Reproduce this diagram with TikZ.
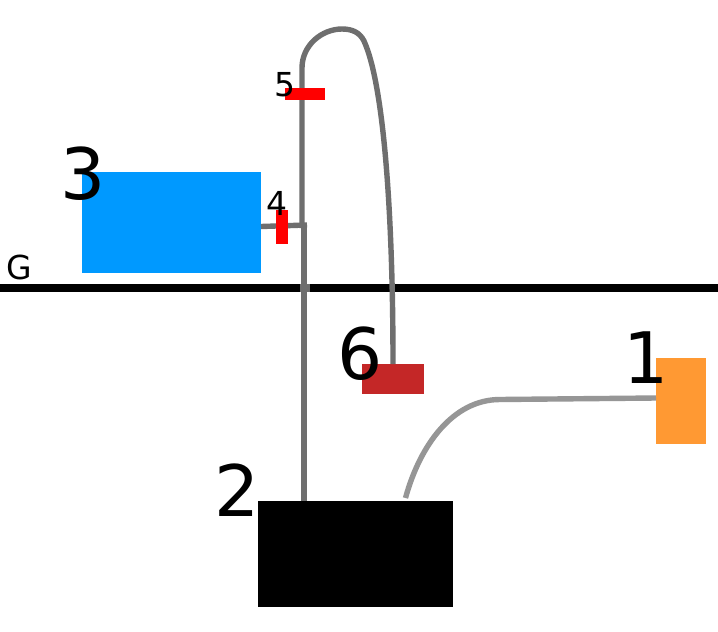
\documentclass[tikz,border=0pt]{standalone}
\usepackage{fontspec}
\setmainfont{DejaVu Sans}
\definecolor{pipedark}{HTML}{6E6E6E}
\definecolor{pipelight}{HTML}{969696}
\definecolor{tankblue}{HTML}{0099FF}
\definecolor{srcorange}{HTML}{FF9933}
\definecolor{sinkred}{HTML}{C42727}
\begin{document}
\begin{tikzpicture}[x=1pt,y=-1pt,
  block/.style={inner sep=0pt,outer sep=0pt},
  pipe/.style={draw=pipedark,line width=5.4pt},
  lbl/.style={inner sep=0pt,text=black},
  biglbl/.style={lbl,font=\fontsize{71}{71}\selectfont},
  smalllbl/.style={lbl,font=\fontsize{33}{33}\selectfont}]
\useasboundingbox (0,0) rectangle (718,632);
\fill[white] (0,0) rectangle (718,632);
\coordinate (gl) at (0,288);
\coordinate (gr) at (718,288);
\coordinate (bend) at (304,225);
\coordinate (stub) at (307,225);
\node[block,fill=black,minimum width=195pt,minimum height=106pt] (two) at (355.5,554) {};
\node[block,fill=srcorange,minimum width=50pt,minimum height=86pt] (one) at (681,401) {};
\node[block,fill=sinkred,minimum width=62pt,minimum height=30pt] (six) at (393,379) {};
\node[block,fill=tankblue,minimum width=179pt,minimum height=101pt] (three) at (171.5,222.5) {};
\draw[black,line width=8pt] (gl) -- (gr);
\draw[pipe] (304,501) -- (bend);
\draw[pipe] (302,228) -- (302,68) .. controls (302,45) and (322,29) .. (342,29) .. controls (353,29) and (360,33) .. (364,41) .. controls (384,85) and (393,215) .. (393,364);
\draw[pipe] (261,226.5) -- (stub);
\draw[draw=pipelight,line width=5.4pt] (405.5,498) .. controls (420,445) and (453,399.5) .. (500,399.5) -- (656,398);
\fill[pipedark] (299.5,284) rectangle (309.5,292);
\node[block,fill=red,minimum width=40pt,minimum height=12pt] (five) at (305,94) {};
\node[block,fill=red,minimum width=12pt,minimum height=34pt] (four) at (282,227) {};
\node[biglbl] at (83,174) {3};
\node[biglbl] at (237,490) {2};
\node[biglbl] at (360,354) {6};
\node[biglbl] at (646,358) {1};
\node[smalllbl] at (285,85) {5};
\node[smalllbl] at (277,203) {4};
\node[smalllbl] at (19,267) {G};
\end{tikzpicture}
\end{document}
